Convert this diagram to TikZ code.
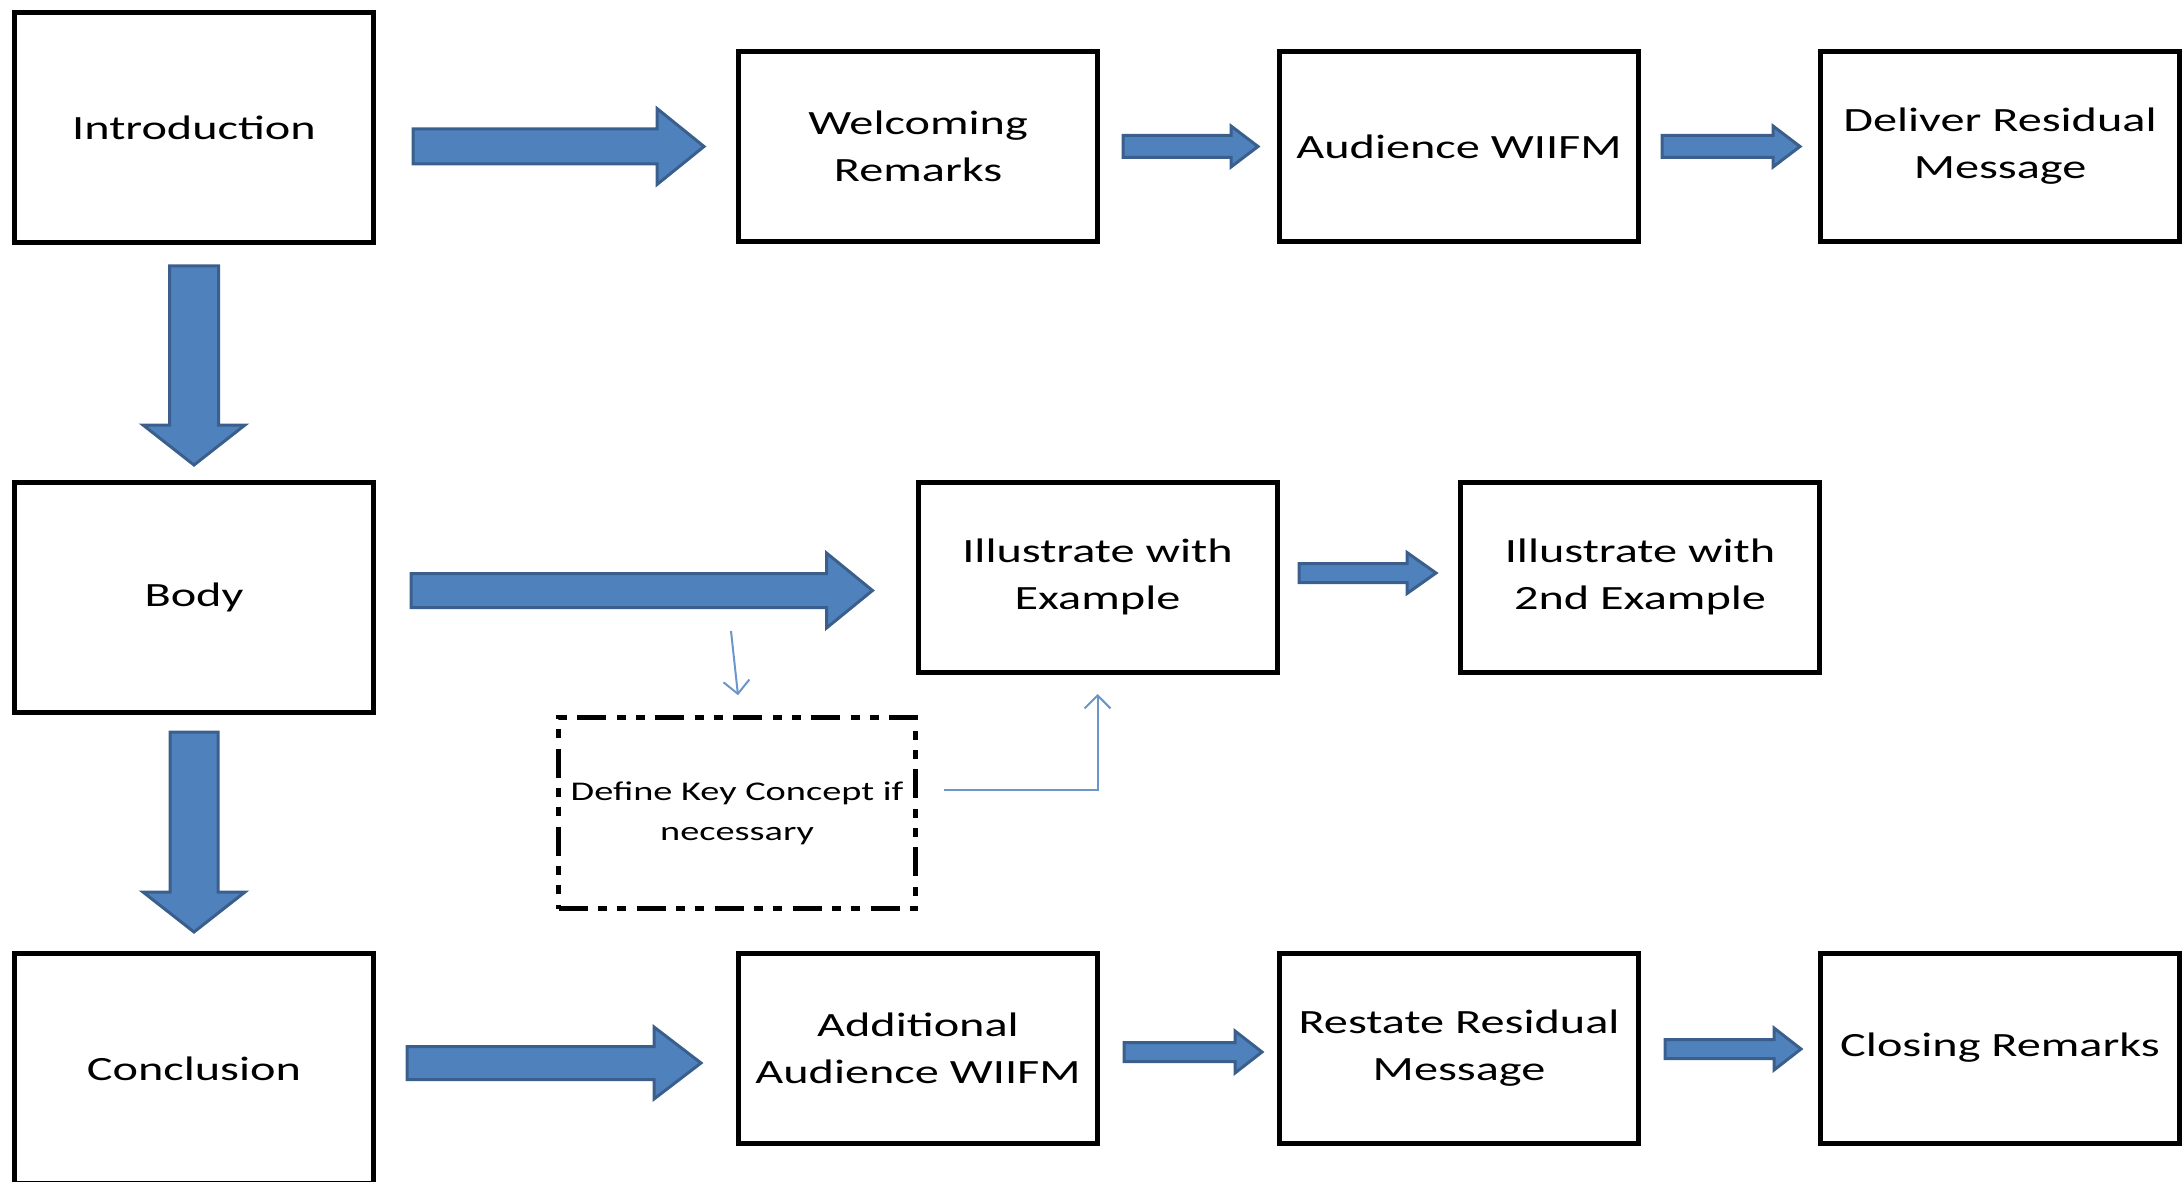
\documentclass[tikz,border=0pt]{standalone}
\usepackage{fontspec}
\setmainfont{Carlito}[FakeStretch=1.42]
\usetikzlibrary{calc, arrows.meta}
\definecolor{arrowfill}{HTML}{4F81BD}
\definecolor{arrowedge}{HTML}{3A5F8C}
\definecolor{linkblue}{HTML}{6A96CC}
\newcommand{\boxfont}{\fontsize{34pt}{47pt}\selectfont}
\newcommand{\notefont}{\fontsize{27pt}{40pt}\selectfont}
\tikzstyle{main-box} = [rectangle, draw=black, line width=5pt, minimum width=359pt, minimum height=230pt, align=center, font=\boxfont]
\tikzstyle{step-box} = [rectangle, draw=black, line width=5pt, minimum width=359pt, minimum height=190pt, align=center, font=\boxfont]
\tikzstyle{note-box} = [rectangle, draw=black, line width=4.5pt, dash pattern=on 29pt off 10pt on 9pt off 10pt on 9pt off 11pt, minimum width=357pt, minimum height=191pt, align=center, font=\notefont]
\tikzstyle{thin-link} = [draw=linkblue, line width=2pt, -{Straight Barb[length=13pt,width=26pt]}]
\tikzset{
    fat-arrow/.style n args={3}{
        fill=arrowfill, draw=arrowedge, line width=3pt,
        to path={
            ($(\tikztostart)!#1!90:(\tikztotarget)$)
            -- ($($(\tikztotarget)!#3!(\tikztostart)$)!#1!90:(\tikztotarget)$)
            -- ($($(\tikztotarget)!#3!(\tikztostart)$)!#2!90:(\tikztotarget)$)
            -- (\tikztotarget)
            -- ($($(\tikztotarget)!#3!(\tikztostart)$)!#2!-90:(\tikztotarget)$)
            -- ($($(\tikztotarget)!#3!(\tikztostart)$)!#1!-90:(\tikztotarget)$)
            -- ($(\tikztostart)!#1!-90:(\tikztotarget)$)
            -- cycle
        }
    }
}
\begin{document}
\begin{tikzpicture}[x=1pt, y=-1pt]
\useasboundingbox (0,0) rectangle (2184,1182);
\clip (0,0) rectangle (2184,1182);

% Opening row
\node (intro) [main-box] at (194,127.5) {Introduction};
\node (welcome) [step-box] at (918,146.5) {Welcoming\\Remarks};
\node (wiifm) [step-box] at (1459,146.5) {Audience WIIFM};
\node (deliver) [step-box] at (2000,146.5) {Deliver Residual\\Message};

% Body row
\node (body) [main-box] at (194,597.5) {Body};
\node (illus) [step-box] at (1097.5,577) {Illustrate with\\Example};
\node (illus-two) [step-box] at (1640,577) {Illustrate with\\2nd Example};
\node (define) [note-box] at (737,813) {Define Key Concept if\\necessary};

% Closing row
\node (concl) [main-box] at (194,1068.5) {Conclusion};
\node (extra) [step-box] at (918,1048) {Additional\\Audience WIIFM};
\node (restate) [step-box] at (1459,1048) {Restate Residual\\Message};
\node (closing) [step-box] at (2000,1048) {Closing Remarks};

\draw [fat-arrow={17.5pt}{38pt}{47pt}] ($(intro.east |- welcome.west)+(37,0)$) to ($(welcome.west)+(-32,0)$);
\draw [fat-arrow={11pt}{20.5pt}{27pt}] ($(welcome.east)+(23,0)$) to ($(wiifm.west)+(-19,0)$);
\draw [fat-arrow={11pt}{20.5pt}{27pt}] ($(wiifm.east)+(21,0)$) to ($(deliver.west)+(-18,0)$);
\draw [fat-arrow={24.5pt}{51pt}{40pt}] ($(intro.south)+(0,21)$) to ($(body.north)+(0,-15)$);

\draw [fat-arrow={17pt}{37.5pt}{46pt}] ($(body.east)+(35,-7)$) to ($(illus.west)+(-43,13.5)$);
\draw [fat-arrow={9.5pt}{20.5pt}{29pt}] ($(illus.east)+(19.5,-4)$) to ($(illus-two.west)+(-22,-4)$);
\draw [fat-arrow={24pt}{51pt}{40pt}] ($(body.south)+(0,17)$) to ($(concl.north)+(0,-19)$);

\draw [fat-arrow={16.5pt}{36pt}{47pt}] ($(concl.east)+(31,-5.5)$) to ($(extra.west)+(-35,15)$);
\draw [fat-arrow={9.5pt}{21pt}{27pt}] ($(extra.east)+(24,4)$) to ($(restate.west)+(-15,4)$);
\draw [fat-arrow={9.5pt}{21pt}{27pt}] ($(restate.east)+(24,1)$) to ($(closing.west)+(-17,1)$);

% side branch
\coordinate (drop-start) at (731,631);
\coordinate (back-start) at (944,790);
\draw [thin-link] (drop-start) -- ($(define.north)+(1,-20)$);
\draw [thin-link] (back-start) -| ($(illus.south)+(0,19.5)$);

\end{tikzpicture}
\end{document}
